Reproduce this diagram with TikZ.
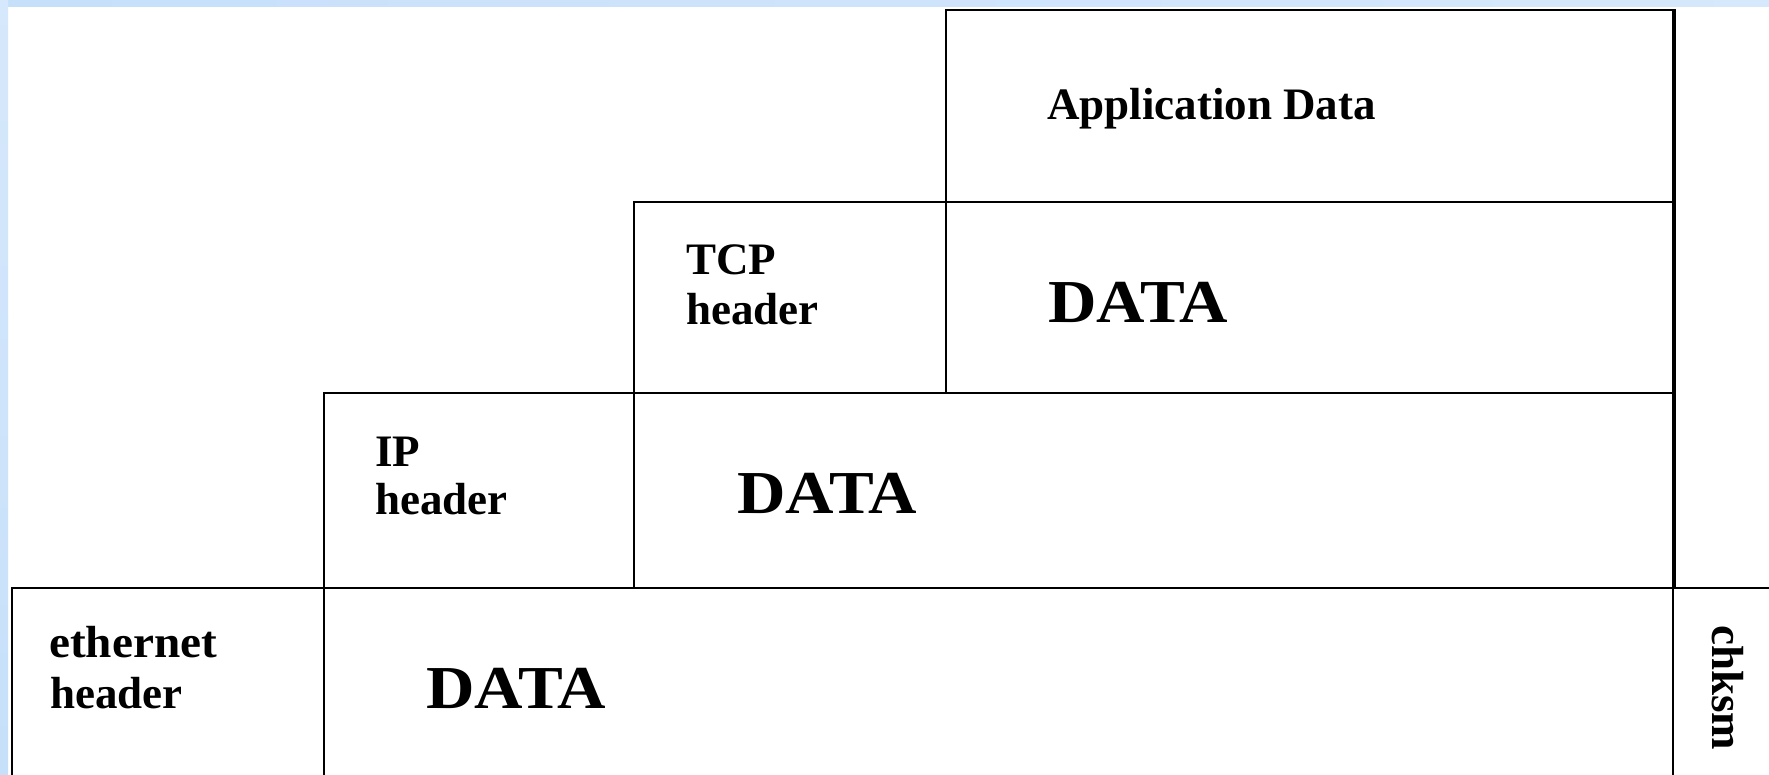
\documentclass[tikz,border=0pt]{standalone}
\usepackage{fontspec}
\setmainfont{Liberation Serif}
\begin{document}
\begin{tikzpicture}[x=1pt,y=-1pt,
  cell/.style={draw=black,line width=2.2pt,rectangle,inner sep=0pt,anchor=north west},
  lbl/.style={anchor=base west,inner sep=0pt,font=\fontsize{45}{50}\selectfont\bfseries},
  big/.style={anchor=base west,inner sep=0pt,xscale=1.1,font=\fontsize{61}{66}\selectfont\bfseries}]
\definecolor{bgblue}{RGB}{198,224,250}
\definecolor{bgblue2}{RGB}{214,232,251}
\useasboundingbox (0,0) rectangle (1769,774);
\fill[white] (0,0) rectangle (1769,774);
\clip (0,0) rectangle (1769,774);
% blue frame strips
\shade[left color=bgblue,right color=bgblue2] (0,0) rectangle (1769,6);
\shade[top color=bgblue2,bottom color=bgblue] (0,0) rectangle (8,774);
% boxes
\node[cell,minimum width=727pt,minimum height=192pt] (app) at (945,9) {};
\node[cell,minimum width=312pt,minimum height=191pt] (tcph) at (633,201) {};
\node[cell,minimum width=727pt,minimum height=191pt] (tcpd) at (945,201) {};
\node[cell,minimum width=310pt,minimum height=195pt] (iph) at (323,392) {};
\node[cell,minimum width=1039pt,minimum height=195pt] (ipd) at (633,392) {};
\node[cell,minimum width=312pt,minimum height=210pt] (ethh) at (11,587) {};
\node[cell,minimum width=1349pt,minimum height=210pt] (ethd) at (323,587) {};
\node[cell,minimum width=120pt,minimum height=210pt] (chk) at (1672,587) {};
\draw[line width=3pt] (app.north east) -- (ethd.north east);
% labels
\node[lbl] (tapp) at (1047,119) {Application Data};
\node[lbl] (ttcp1) at (686,274) {TCP};
\node[lbl] (ttcp2) at (686,324) {header};
\node[big] (dtcp) at (1048,322) {DATA};
\node[lbl] (tip1) at (375,466) {IP};
\node[lbl] (tip2) at (375,514) {header};
\node[big] (dip) at (737,513) {DATA};
\node[lbl,xscale=1.05] (teth1) at (49,657) {ethernet};
\node[lbl] (teth2) at (50,708) {header};
\node[big] (deth) at (426,708) {DATA};
\node[lbl,rotate=-90] (tchk) at (1712,625) {chksm};
\end{tikzpicture}
\end{document}
